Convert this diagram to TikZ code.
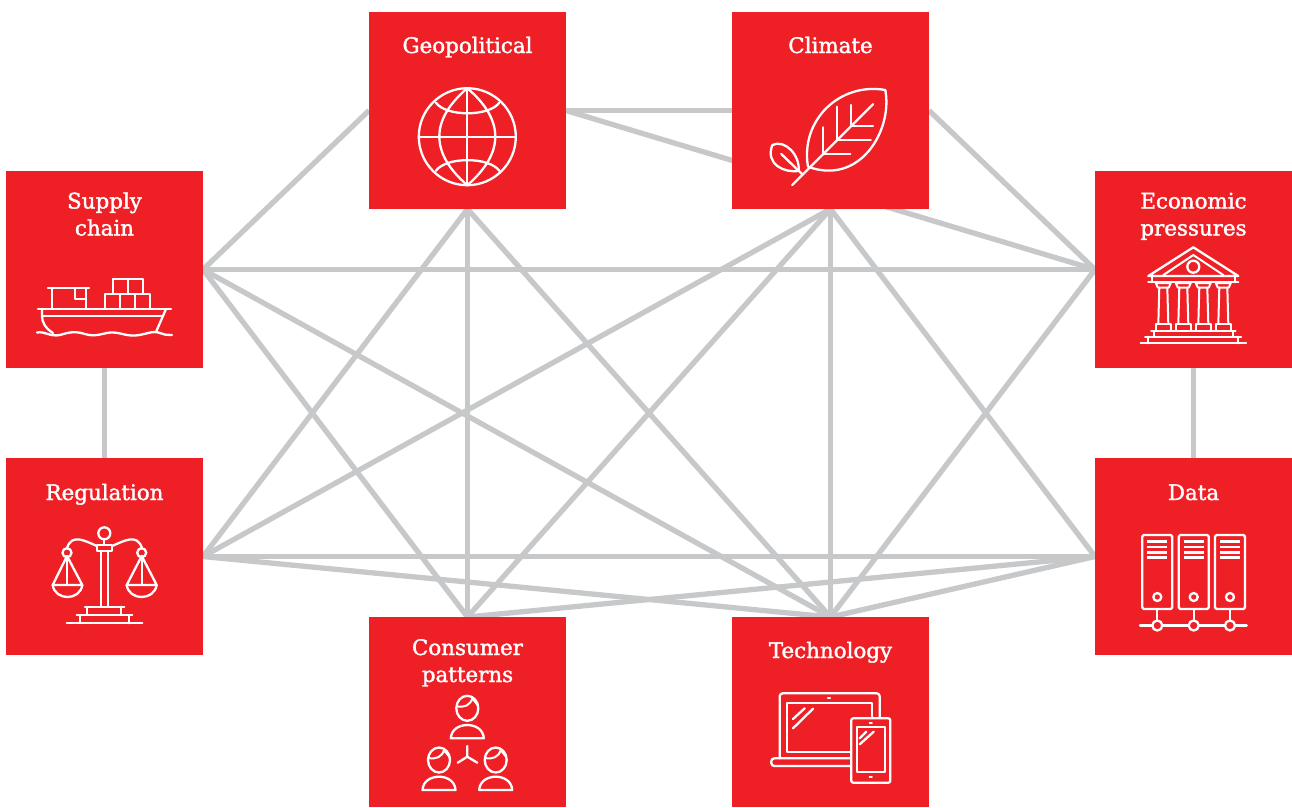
\documentclass[tikz,border=0pt]{standalone}
\usepackage{fontspec}
\setmainfont{DejaVu Serif}
\newfontfamily\labfont[FakeBold=1.6]{DejaVu Serif}
\usetikzlibrary{backgrounds}
\definecolor{boxred}{RGB}{239,31,38}
\definecolor{linkgrey}{RGB}{198,200,202}
\tikzset{
  box/.style={fill=boxred,draw=none,minimum width=197pt,minimum height=197pt,inner sep=0pt,outer sep=0pt},
  cutbox/.style={box,minimum height=190pt},
  lab/.style={text=white,font=\labfont\fontsize{21.4}{27}\selectfont,align=center,inner sep=0pt,anchor=base},
  link/.style={draw=linkgrey,line width=5.3pt},
  icon/.style={draw=white,line width=2.3pt,line join=round,line cap=round},
  thin icon/.style={icon,line width=2pt},
}
\newcommand{\personicon}[2]{%
  \begin{scope}[shift={(#1,#2)}]
    \draw[icon] (0,0) ellipse [x radius=11,y radius=12.5];
    \draw[thin icon] (-10.5,-2) .. controls (-3,-0.5) and (3,-3) .. (5,-10) -- (10.5,-3);
    \draw[icon] (-16.5,30) .. controls (-16,21) and (-8,16.7) .. (0,16.7) .. controls (8,16.7) and (16,21) .. (16.5,30) -- cycle;
  \end{scope}}
\newcommand{\pillar}[1]{%
  \begin{scope}[shift={(#1,0)}]
    \draw[thin icon] (-7.5,283) -- (7.5,283) -- (5.5,287.5) -- (-5.5,287.5) -- cycle;
    \draw[thin icon] (-4,287.5) -- (-5,324) (4,287.5) -- (5,324);
    \draw[thin icon] (-7.5,324) rectangle (7.5,331);
  \end{scope}}
\newcommand{\cabinet}[1]{%
  \begin{scope}[shift={(#1,0)}]
    \draw[icon,rounded corners=1.5pt] (0,535) rectangle (30,609);
    \foreach \yy in {541.5,547,552.5,557.5} \draw[draw=white,line width=2.4pt] (5,\yy) -- (25,\yy);
    \draw[icon] (15,597) circle [radius=4];
    \draw[icon] (15,609) -- (15,621);
    \draw[icon,fill=boxred] (15,625.5) circle [radius=5];
  \end{scope}}
\begin{document}
\begin{tikzpicture}[x=1pt,y=-1pt]
\path[use as bounding box] (0,0) rectangle (1292,807);

\node[box] (geo) at (467.5,110.5) {};
\node[box] (cli) at (830.5,110.5) {};
\node[box] (sup) at (104.5,269.5) {};
\node[box] (eco) at (1193.5,269.5) {};
\node[box] (reg) at (104.5,556.5) {};
\node[box] (dat) at (1193.5,556.5) {};
\node[cutbox] (con) at (467.5,712) {};
\node[cutbox] (tec) at (830.5,712) {};

\begin{scope}[on background layer]
  \foreach \a/\b in {sup.east/geo.west, sup.south/reg.north, geo.east/cli.west, geo.east/eco.west,
    cli.east/eco.west, eco.south/dat.north, sup.east/eco.west, sup.east/con.north, sup.east/tec.north,
    reg.east/geo.south, reg.east/cli.south, reg.east/dat.west, reg.east/tec.north,
    geo.south/con.north, geo.south/tec.north, cli.south/con.north, cli.south/tec.north, cli.south/dat.west,
    eco.west/tec.north, dat.west/con.north, dat.west/tec.north}
    \draw[link] (\a) -- (\b);
\end{scope}

\node[lab] (lgeo) at (467.5,53) {Geopolitical};
\node[lab] (lcli) at (830.5,53) {Climate};
\node[lab] (lsup) at (104.5,235.5) {Supply\\chain};
\node[lab] (leco) at (1193.5,235.5) {Economic\\pressures};
\node[lab] (lreg) at (104.5,500) {Regulation};
\node[lab] (ldat) at (1193.5,500) {Data};
\node[lab] (lcon) at (467.5,682) {Consumer\\patterns};
\node[lab] (ltec) at (830.5,658) {Technology};

% globe
\draw[icon] (467.3,136.7) circle [radius=48.5];
\draw[icon] (467.3,88.2) .. controls (430,120) and (430,153) .. (467.3,185.2);
\draw[icon] (467.3,88.2) .. controls (504.6,120) and (504.6,153) .. (467.3,185.2);
\draw[icon] (467.3,88.2) -- (467.3,185.2);
\draw[icon] (418.8,136.7) -- (515.8,136.7);
\draw[icon] (436,102.7) .. controls (446,116.8) and (489,116.8) .. (499.3,102.7);
\draw[icon] (436,170.7) .. controls (446,156.6) and (489,156.6) .. (499.3,170.7);

% leaf
\draw[icon] (808,166.7) .. controls (800,120) and (840,82) .. (885.3,90) .. controls (893,130) and (860,186) .. (808,166.7);
\draw[icon] (792.3,185) -- (873,104.3);
\draw[icon] (823,127.3) -- (823,154) -- (850.3,154);
\draw[icon] (837,106.7) -- (837,140) -- (870.7,140);
\draw[icon] (851.3,105) -- (851.3,125.7) -- (873,125.7);
\draw[icon] (772.3,145) .. controls (785,139) and (800,155) .. (798.7,171) .. controls (785,173) and (765,165) .. (772.3,145);
\draw[icon] (781.3,154) -- (802,174);

% ship
\draw[icon] (38,309) -- (171,309);
\draw[icon] (42,309) -- (42,316) .. controls (42,322) and (45,328) .. (53,333);
\draw[icon] (166,309) -- (156,332);
\draw[icon] (43,316) -- (163,316);
\draw[icon] (37,332.5) .. controls (45,331) and (50,337) .. (60,335) .. controls (70,332) and (75,331) .. (85,334)
  .. controls (95,337) and (100,334) .. (110,332.5) .. controls (120,332) and (125,336) .. (135,335.5)
  .. controls (145,335) and (152,330) .. (160,333) .. controls (165,335) and (168,335) .. (172,335);
\draw[icon] (48,288) -- (89,288);
\draw[icon] (52,288) -- (52,309) (86,288) -- (86,309);
\draw[icon] (75,289) -- (75,299) -- (86,299);
\draw[icon] (105,294) rectangle (150,309);
\draw[icon] (120,294) -- (120,309) (135,294) -- (135,309);
\draw[icon] (113,279) rectangle (143,294);
\draw[icon] (128,279) -- (128,294);

% scales
\draw[icon] (104.3,533.3) circle [radius=6];
\draw[icon] (97,545) rectangle (112,551);
\draw[icon] (104.3,539.3) -- (104.3,545);
\draw[icon] (101,551) -- (101,606.7) (108,551) -- (108,606.7);
\draw[icon] (97,546) .. controls (85,541) and (72,533) .. (67,548);
\draw[icon] (112,546) .. controls (124,541) and (137,533) .. (142,548);
\draw[icon] (67,552.7) circle [radius=4.5];
\draw[icon] (141.7,552.7) circle [radius=4.5];
\draw[icon] (67,556) -- (52.7,585) -- (82.3,585) -- cycle;
\draw[icon] (67,556) -- (67,585);
\draw[icon] (52.7,585) .. controls (55,601) and (80,601) .. (82.3,585);
\draw[icon] (141.7,556) -- (126.7,585) -- (156.7,585) -- cycle;
\draw[icon] (141.7,556) -- (141.7,585);
\draw[icon] (126.7,585) .. controls (129,601) and (154,601) .. (156.7,585);
\draw[icon] (85,606.7) -- (124.3,606.7);
\draw[icon] (87.3,606.7) -- (87.3,615) (120.7,606.7) -- (120.7,615);
\draw[icon] (76.7,615) -- (132.3,615);
\draw[icon] (80,615) -- (80,623.3) (129.3,615) -- (129.3,623.3);
\draw[icon] (66.7,623.3) -- (142.3,623.3);

% bank
\draw[icon] (1148.3,276) -- (1193.3,247.3) -- (1238.3,276) -- cycle;
\draw[thin icon] (1163.3,275) -- (1193.3,255) -- (1223.3,275);
\draw[icon] (1193.3,266.7) circle [radius=6];
\draw[icon] (1148.3,282.3) -- (1238.3,282.3);
\draw[thin icon] (1151.5,276) -- (1151.5,282.3) (1235,276) -- (1235,282.3);
\pillar{1163.3}\pillar{1183.3}\pillar{1203.3}\pillar{1223.3}
\draw[thin icon] (1151,331.3) -- (1235.7,331.3);
\draw[thin icon] (1154,331.3) -- (1154,336.7) (1232.7,331.3) -- (1232.7,336.7);
\draw[thin icon] (1145,336.7) -- (1241,336.7);
\draw[thin icon] (1148.3,336.7) -- (1148.3,343.3) (1238.3,336.7) -- (1238.3,343.3);
\draw[thin icon] (1140.7,343.3) -- (1246,343.3);

% servers
\draw[icon] (1140,625.5) -- (1246.7,625.5);
\cabinet{1142.3}\cabinet{1178.7}\cabinet{1215}

% people
\personicon{467.3}{708.3}
\personicon{439}{760}
\personicon{495.7}{760}
\draw[icon] (467.3,746) -- (467.3,756.7) -- (457.7,762.7) (467.3,756.7) -- (477.3,762.7);

% devices
\draw[icon,rounded corners=3pt] (779.7,758.3) -- (779.7,693.3) -- (879.7,693.3) -- (879.7,717.3);
\draw[icon] (850.3,751.7) -- (787,751.7) -- (787,703.3) -- (872,703.3) -- (872,717.3);
\draw[icon] (828,698.3) -- (830,698.3);
\draw[icon,rounded corners=3pt] (850.3,758.3) -- (771.3,758.3) -- (771.3,766) -- (850.3,766);
\draw[icon,rounded corners=2pt] (851.3,718.3) rectangle (890.3,782.7);
\draw[icon] (857.3,727.3) rectangle (884.7,772.3);
\draw[icon] (869.7,722.7) -- (871.7,722.7) (869.7,777.3) -- (871.7,777.3);
\draw[icon] (793,719) -- (804.7,708.3) (793,728.3) -- (813,708.7);
\draw[icon] (859.7,738.3) -- (866.3,731.7) (859.7,744.3) -- (873.7,731.7);
\end{tikzpicture}
\end{document}
